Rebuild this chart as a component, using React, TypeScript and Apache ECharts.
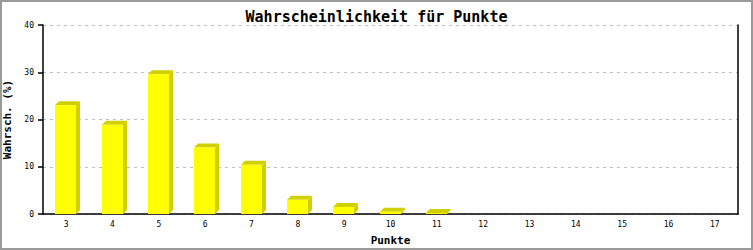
import React, { useEffect, useRef } from "react";
import * as echarts from "echarts";

const TITLE = "Wahrscheinlichkeit für Punkte";
const X_NAME = "Punkte";
const Y_NAME = "Wahrsch. (%)";
const categories = ["3", "4", "5", "6", "7", "8", "9", "10", "11", "12", "13", "14", "15", "16", "17"];
const values = [23.0, 18.9, 29.6, 14.1, 10.4, 3.0, 1.5, 0.5, 0.2, 0, 0, 0, 0, 0, 0];
const yTicks = [0, 10, 20, 30, 40];

const FRONT = "#ffff00";
const SHADE = "#d0d000";
const MONO = "'DejaVu Sans Mono', 'Liberation Mono', monospace";

export default function App() {
  const ref = useRef<HTMLDivElement>(null);
  useEffect(() => {
    document.body.style.margin = "0";
    const chart = echarts.init(ref.current!, null, { renderer: "svg" });
    const data = values.map((v, i) => [i, v]);
    chart.setOption({
      animation: false,
      backgroundColor: "#ffffff",
      title: {
        text: TITLE,
        left: "center",
        top: 4,
        textStyle: { fontFamily: MONO, fontSize: 15, fontWeight: "bold", color: "#000" },
      },
      graphic: [
        {
          type: "rect",
          shape: { x: 1, y: 1, width: 751, height: 248 },
          style: { fill: "none", stroke: "#9a9a9a", lineWidth: 2 },
          silent: true,
        },
      ],
      grid: { left: 43, right: 15, top: 25, bottom: 36, containLabel: false, outerBoundsMode: "none" },
      xAxis: {
        type: "category",
        data: categories,
        name: X_NAME,
        nameLocation: "middle",
        nameGap: 21,
        nameTextStyle: { fontFamily: MONO, fontSize: 11, fontWeight: "bold", color: "#000" },
        axisLine: { lineStyle: { color: "#000", width: 1.5 } },
        axisTick: { show: false },
        axisLabel: { fontFamily: MONO, fontSize: 8, color: "#000", margin: 6 },
      },
      yAxis: [
        {
          type: "value",
          min: yTicks[0],
          max: yTicks[yTicks.length - 1],
          interval: 10,
          name: Y_NAME,
          nameLocation: "middle",
          nameGap: 24,
          nameRotate: 90,
          nameTextStyle: { fontFamily: MONO, fontSize: 11, fontWeight: "bold", color: "#000" },
          axisLine: { show: true, lineStyle: { color: "#000", width: 1.5 } },
          axisTick: { show: true, length: 5, lineStyle: { color: "#000", width: 1.5 } },
          axisLabel: { fontFamily: MONO, fontSize: 8, color: "#000", margin: 9 },
          splitLine: { show: true, lineStyle: { color: "#c0c0c0", type: [3, 4], width: 1 } },
        },
        {
          type: "value",
          min: yTicks[0],
          max: yTicks[yTicks.length - 1],
          interval: 10,
          position: "right",
          axisLine: { show: true, lineStyle: { color: "#000", width: 1.5 } },
          axisTick: { show: false },
          axisLabel: { show: false },
          splitLine: { show: false },
        },
      ],
      series: [
        {
          type: "custom",
          data,
          encode: { x: 0, y: 1 },
          renderItem: (params: any, api: any) => {
            const v = api.value(1);
            if (!(v > 0)) return null;
            const top = api.coord([api.value(0), v]);
            const base = api.coord([api.value(0), 0]);
            const band = api.size([1, 0])[0];
            const w = Math.round(band * 0.455);
            const d = 4;
            const left = Math.round(top[0] - w / 2 - 0.5);
            const ty = top[1];
            const by = base[1];
            return {
              type: "group",
              children: [
                {
                  type: "polygon",
                  shape: { points: [[left + w, ty], [left + w + d, ty - d], [left + w + d, by - d], [left + w, by]] },
                  style: { fill: SHADE },
                },
                {
                  type: "polygon",
                  shape: { points: [[left, ty], [left + d, ty - d], [left + w + d, ty - d], [left + w, ty]] },
                  style: { fill: SHADE },
                },
                {
                  type: "rect",
                  shape: { x: left, y: ty, width: w, height: Math.max(0, by - ty) },
                  style: { fill: FRONT },
                },
              ],
            };
          },
        },
      ],
    });
    return () => chart.dispose();
  }, []);
  return <div ref={ref} style={{ width: 753, height: 250 }} />;
}
